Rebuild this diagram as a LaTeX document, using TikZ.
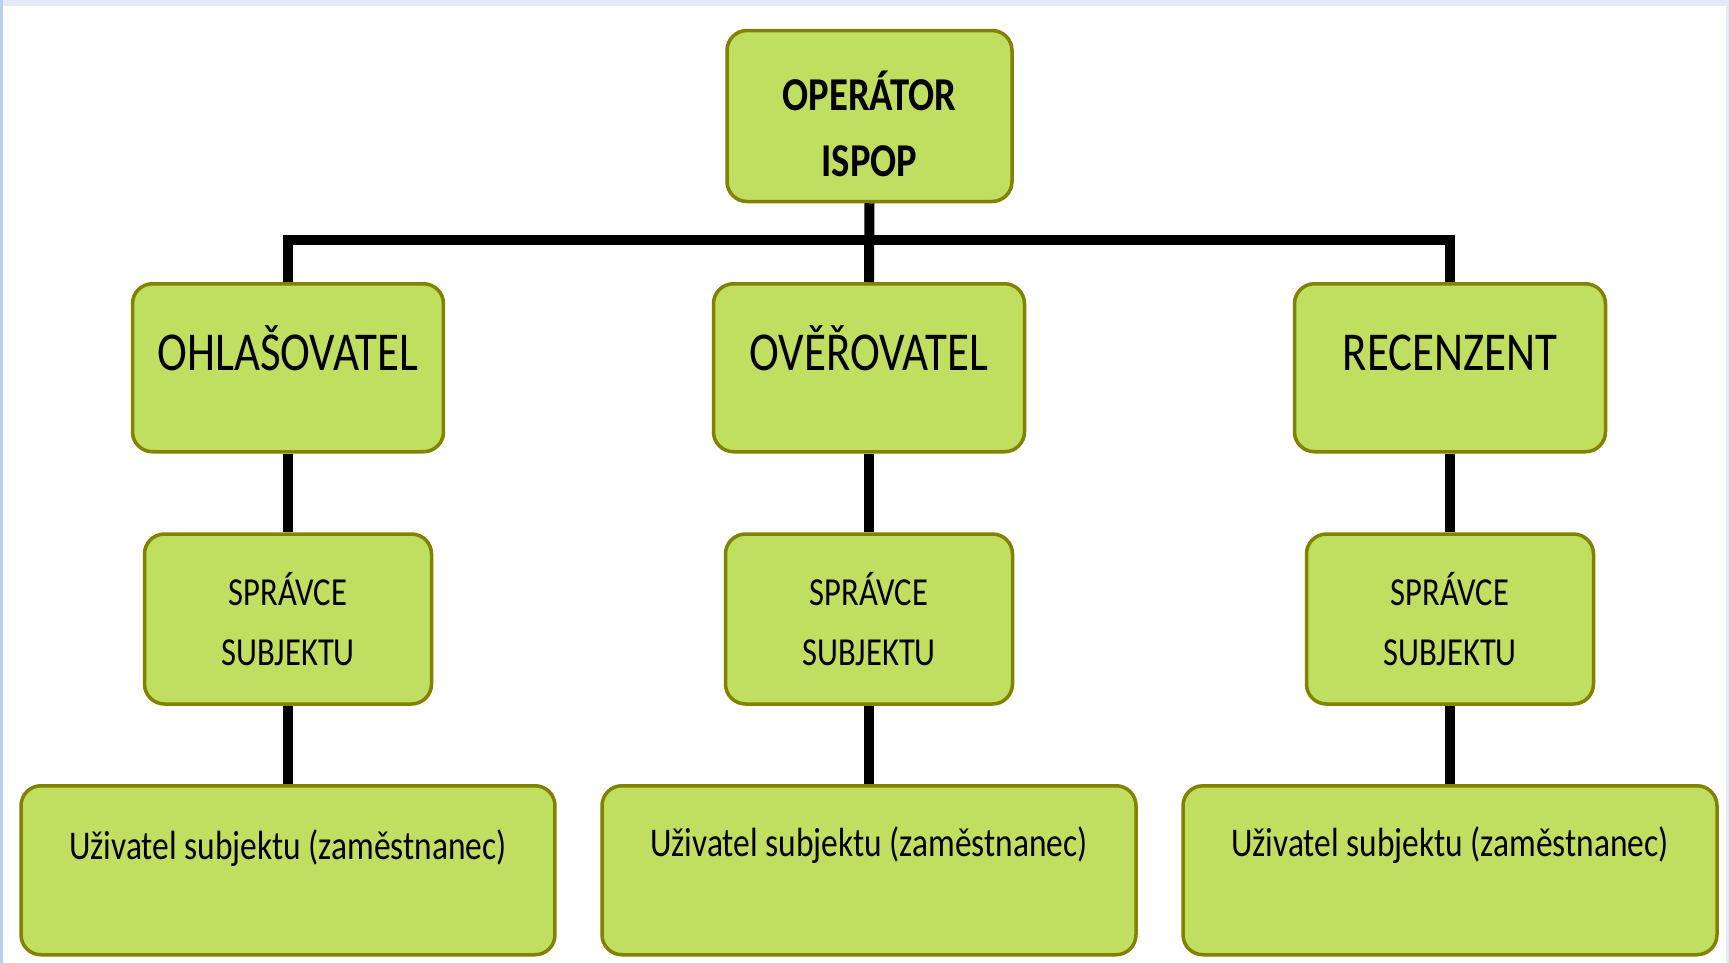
\documentclass[tikz,border=0pt]{standalone}
\usepackage{fontspec}
\setmainfont[FakeStretch=0.82]{Carlito}
\definecolor{boxgreen}{RGB}{192,222,96}
\definecolor{boxolive}{RGB}{128,130,0}
\definecolor{slideblue}{RGB}{227,234,246}
\definecolor{edgeblue}{RGB}{184,210,236}
\tikzset{
    rolebox/.style={draw=boxolive, fill=boxgreen, line width=0.35mm, rounded corners=2mm, inner sep=0pt},
    wire/.style={line width=1mm, line join=miter}
}
\begin{document}
\begin{tikzpicture}[x=0.1mm, y=-0.1mm]
        \fill [white] (0, 0) rectangle (1729, 963);
        \fill [slideblue] (0, 0) rectangle (1729, 6);
        \fill [edgeblue] (0, 0) rectangle (3, 963);
        \fill [slideblue] (1726, 6) rectangle (1729, 963);
        \node [rolebox, minimum width=28.5mm, minimum height=17.1mm, align=center,
            font=\bfseries\fontsize{13.4}{18.8}\selectfont] (operator) at (869.5, 116) {\rule{0pt}{5.6mm}OPERÁTOR\\ISPOP};
        \node [rolebox, anchor=north, minimum width=31.1mm, text height=8.7mm, text depth=8.1mm,
            font=\fontsize{15.6}{18}\selectfont] (ohlasovatel) at (288, 282) {OHLAŠOVATEL};
        \node [rolebox, anchor=north, minimum width=31.1mm, text height=8.7mm, text depth=8.1mm,
            font=\fontsize{15.6}{18}\selectfont] (overovatel) at (869, 282) {OVĚŘOVATEL};
        \node [rolebox, anchor=north, minimum width=31.1mm, text height=8.7mm, text depth=8.1mm,
            font=\fontsize{15.6}{18}\selectfont] (recenzent) at (1450, 282) {RECENZENT};
        \node [rolebox, minimum width=28.7mm, minimum height=17mm, align=center,
            font=\fontsize{11.3}{17}\selectfont] (spravceA) at (288, 619) {SPRÁVCE\\SUBJEKTU};
        \node [rolebox, minimum width=28.7mm, minimum height=17mm, align=center,
            font=\fontsize{11.3}{17}\selectfont] (spravceB) at (869, 619) {SPRÁVCE\\SUBJEKTU};
        \node [rolebox, minimum width=28.7mm, minimum height=17mm, align=center,
            font=\fontsize{11.3}{17}\selectfont] (spravceC) at (1450, 619) {SPRÁVCE\\SUBJEKTU};
        \node [rolebox, anchor=north, minimum width=53.4mm, text height=7.4mm, text depth=9.5mm,
            font=\fontsize{11.6}{15}\selectfont] (uzivatelA) at (288, 784) {Uživatel subjektu (zaměstnanec)};
        \node [rolebox, anchor=north, minimum width=53.4mm, text height=7.1mm, text depth=9.8mm,
            font=\fontsize{11.6}{15}\selectfont] (uzivatelB) at (869, 784) {Uživatel subjektu (zaměstnanec)};
        \node [rolebox, anchor=north, minimum width=53.4mm, text height=7.1mm, text depth=9.8mm,
            font=\fontsize{11.6}{15}\selectfont] (uzivatelC) at (1450, 784) {Uživatel subjektu (zaměstnanec)};
        \coordinate (bus) at (869, 240);
        \draw [wire] (operator.south) -- (overovatel.north);
        \draw [wire] (ohlasovatel.north) -- (ohlasovatel.north |- bus) -- (recenzent.north |- bus) -- (recenzent.north);
        \draw [wire] (ohlasovatel.south) -- (spravceA.north);
        \draw [wire] (overovatel.south) -- (spravceB.north);
        \draw [wire] (recenzent.south) -- (spravceC.north);
        \draw [wire] (spravceA.south) -- (uzivatelA.north);
        \draw [wire] (spravceB.south) -- (uzivatelB.north);
        \draw [wire] (spravceC.south) -- (uzivatelC.north);
    \end{tikzpicture}
\end{document}
